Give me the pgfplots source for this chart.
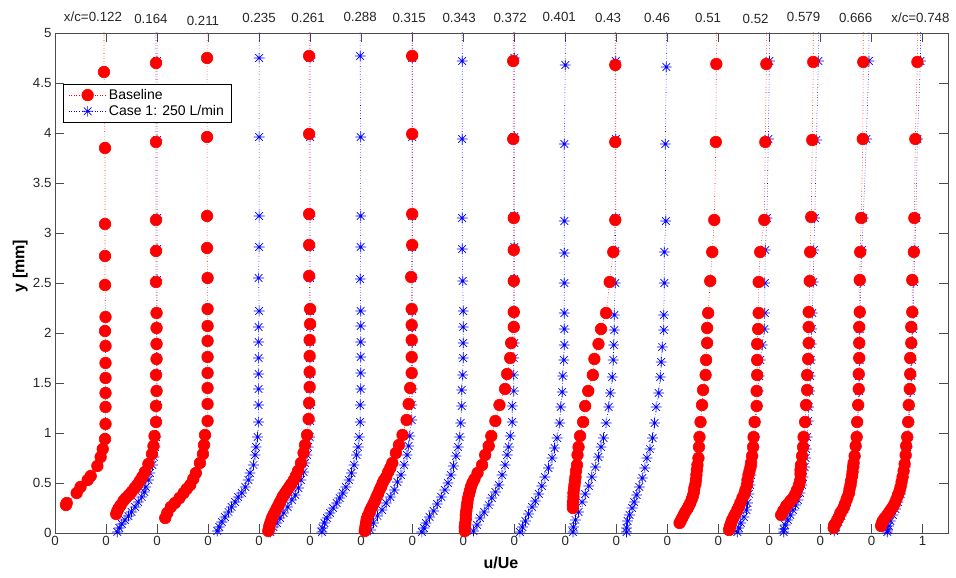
\documentclass[border=0pt]{standalone}
\usepackage{pgfplots}
\pgfplotsset{compat=1.18}
\usepackage{fontspec}
\setmainfont{Liberation Sans}

\newcommand{\mfont}{\fontsize{13.3}{15}\selectfont}
\newcommand{\gfont}{\fontsize{14}{16}\selectfont}
\newcommand{\lfont}{\fontsize{16}{18}\selectfont\bfseries}

% eight-armed asterisk
\pgfdeclareplotmark{mstar}{%
  \pgfpathmoveto{\pgfqpoint{-\pgfplotmarksize}{0pt}}%
  \pgfpathlineto{\pgfqpoint{\pgfplotmarksize}{0pt}}%
  \pgfpathmoveto{\pgfqpoint{0pt}{-\pgfplotmarksize}}%
  \pgfpathlineto{\pgfqpoint{0pt}{\pgfplotmarksize}}%
  \pgfpathmoveto{\pgfqpoint{-0.7071\pgfplotmarksize}{-0.7071\pgfplotmarksize}}%
  \pgfpathlineto{\pgfqpoint{0.7071\pgfplotmarksize}{0.7071\pgfplotmarksize}}%
  \pgfpathmoveto{\pgfqpoint{-0.7071\pgfplotmarksize}{0.7071\pgfplotmarksize}}%
  \pgfpathlineto{\pgfqpoint{0.7071\pgfplotmarksize}{-0.7071\pgfplotmarksize}}%
  \pgfusepathqstroke}

\pgfplotsset{
  baseline/.style={color=red, dotted, line width=0.6pt, mark=*, mark size=5.8pt,
    mark options={solid, fill=red, draw=red}},
  caseone/.style={color=blue, dotted, line width=0.6pt, mark=mstar, mark size=5.4pt,
    mark options={solid, line width=0.7pt}},
}

% each profile is stored as (u/Ue, y); #1 shifts it to its station
\newcommand{\bl}[2]{\addplot[baseline, forget plot, x filter/.expression={x+#1}] coordinates {#2};}
\newcommand{\ca}[2]{\addplot[caseone, forget plot, x filter/.expression={x+#1}] coordinates {#2};}

\begin{document}
\begin{tikzpicture}
\begin{axis}[
  scale only axis, width=893pt, height=500pt,
  xmin=0, xmax=17.5, ymin=0, ymax=5,
  xtick={0,1,2,3,4,5,6,7,8,9,10,11,12,13,14,15,16,17},
  xticklabels={0,0,0,0,0,0,0,0,0,0,0,0,0,0,0,0,0,1},
  ytick={0,0.5,1,1.5,2,2.5,3,3.5,4,4.5,5},
  yticklabels={0,0.5,1,1.5,2,2.5,3,3.5,4,4.5,5},
  tick pos=both, tick align=inside, major tick length=9pt,
  axis line style={black!70, line width=0.7pt},
  every tick/.style={black!70, line width=0.7pt},
  tick label style={font=\mfont, text=black!85},
  xlabel={u/Ue}, ylabel={y [mm]},
  xlabel style={font=\lfont, at={(axis description cs:0.4994,-0.06)}, anchor=center},
  ylabel style={font=\lfont, at={(axis description cs:-0.039,0.534)}, anchor=center},
  legend style={at={(axis description cs:0.009,0.898)}, anchor=north west,
    draw=black, fill=white, font=\gfont, line width=0.6pt,
    inner xsep=5pt, inner ysep=3pt, row sep=0.5pt},
  legend cell align=left,
  legend image code/.code={\draw[mark repeat=2, mark phase=2]
    plot coordinates {(0pt,0pt) (19pt,0pt) (38pt,0pt)};},
]
\addlegendimage{baseline}\addlegendentry{Baseline}
\addlegendimage{caseone}\addlegendentry{Case 1: 250 L/min}

% x/c = 0.122
\bl{0}{(0.96,5.5)(0.96,4.61)(0.98,3.85)(0.98,3.09)(0.98,2.77)(0.98,2.48)(0.99,2.16)(0.98,2.02)(0.99,1.87)(0.99,1.70)(0.99,1.55)(0.99,1.40)(0.99,1.26)(0.99,1.09)(0.98,0.94)(0.935,0.84)(0.895,0.76)(0.83,0.67)(0.70,0.57)(0.64,0.53)(0.50,0.46)(0.425,0.40)(0.23,0.30)(0.215,0.28)}
% x/c = 0.164
\ca{1}{(1.0,5.5)(1.0,4.72)(1.0,3.93)(1.0,3.15)(1.0,2.84)(1.0,2.53)(1.0,2.21)(1.0,2.06)(1.0,1.90)(1.0,1.75)(1.0,1.59)(1.0,1.43)(1.0,1.28)(0.99,1.12)(0.98,0.96)(0.96,0.86)(0.94,0.76)(0.91,0.68)(0.86,0.60)(0.83,0.53)(0.78,0.46)(0.75,0.41)(0.70,0.36)(0.63,0.31)(0.57,0.26)(0.50,0.21)(0.44,0.17)(0.37,0.13)(0.31,0.09)(0.26,0.05)(0.22,0.01)}
\bl{1}{(0.98,5.5)(0.98,4.70)(0.98,3.91)(0.98,3.13)(0.98,2.82)(0.98,2.51)(0.99,2.20)(0.99,2.05)(0.99,1.89)(0.99,1.74)(0.98,1.58)(0.99,1.42)(0.98,1.27)(0.98,1.11)(0.95,0.97)(0.93,0.87)(0.90,0.79)(0.83,0.69)(0.76,0.61)(0.71,0.56)(0.66,0.52)(0.61,0.48)(0.56,0.45)(0.50,0.41)(0.45,0.38)(0.39,0.35)(0.34,0.32)(0.29,0.28)(0.25,0.25)(0.22,0.22)(0.20,0.19)}
% x/c = 0.211
\bl{2}{(0.98,5.5)(0.98,4.75)(0.98,3.96)(0.98,3.17)(0.98,2.85)(0.99,2.55)(0.99,2.24)(0.99,2.07)(0.99,1.92)(0.99,1.76)(0.99,1.60)(0.99,1.45)(0.99,1.29)(0.99,1.12)(0.94,0.98)(0.92,0.88)(0.90,0.79)(0.84,0.70)(0.76,0.60)(0.71,0.54)(0.65,0.48)(0.58,0.44)(0.52,0.40)(0.44,0.35)(0.35,0.30)(0.27,0.26)(0.20,0.20)(0.16,0.15)}
% x/c = 0.235
\ca{3}{(1.0,5.5)(1.0,4.75)(1.0,3.96)(1.0,3.17)(1.0,2.86)(0.99,2.55)(1.0,2.22)(0.99,2.06)(0.99,1.91)(0.99,1.75)(0.99,1.59)(0.99,1.44)(0.99,1.28)(0.99,1.11)(0.97,0.96)(0.94,0.86)(0.92,0.78)(0.89,0.68)(0.82,0.60)(0.79,0.53)(0.73,0.46)(0.66,0.40)(0.59,0.36)(0.53,0.31)(0.46,0.26)(0.40,0.21)(0.33,0.16)(0.27,0.11)(0.22,0.06)(0.18,0.02)}
% x/c = 0.261
\ca{4}{(1.0,5.5)(1.0,4.75)(1.0,3.96)(1.0,3.17)(1.0,2.86)(1.0,2.55)(1.0,2.22)(1.0,2.06)(1.0,1.91)(1.0,1.75)(1.0,1.59)(1.0,1.44)(1.0,1.28)(1.0,1.12)(0.99,0.96)(0.96,0.86)(0.94,0.78)(0.90,0.70)(0.87,0.61)(0.82,0.53)(0.77,0.45)(0.71,0.38)(0.64,0.33)(0.56,0.26)(0.48,0.20)(0.41,0.15)(0.35,0.10)(0.28,0.06)(0.22,0.01)}
\bl{4}{(0.98,5.5)(0.98,4.77)(0.98,3.99)(0.98,3.19)(0.98,2.88)(0.98,2.57)(1.0,2.24)(1.0,2.09)(0.99,1.93)(0.99,1.77)(0.99,1.61)(0.99,1.46)(0.98,1.30)(0.97,1.14)(0.94,0.98)(0.90,0.88)(0.87,0.80)(0.82,0.70)(0.76,0.62)(0.72,0.57)(0.68,0.53)(0.63,0.49)(0.59,0.46)(0.55,0.43)(0.51,0.40)(0.47,0.37)(0.44,0.34)(0.41,0.31)(0.38,0.28)(0.35,0.25)(0.32,0.22)(0.29,0.19)(0.26,0.16)(0.24,0.13)(0.22,0.10)(0.20,0.07)(0.19,0.04)(0.18,0.02)}
% x/c = 0.288
\ca{5}{(0.98,5.5)(0.98,4.77)(0.99,3.96)(0.99,3.17)(0.99,2.86)(0.98,2.54)(0.99,2.22)(0.99,2.07)(0.99,1.91)(0.99,1.76)(0.99,1.60)(0.99,1.44)(0.98,1.28)(0.98,1.11)(0.96,0.96)(0.94,0.86)(0.91,0.78)(0.86,0.68)(0.81,0.60)(0.76,0.53)(0.70,0.46)(0.64,0.40)(0.58,0.35)(0.52,0.30)(0.45,0.25)(0.39,0.20)(0.33,0.15)(0.28,0.10)(0.24,0.05)(0.23,0.01)}
% x/c = 0.315
\ca{6}{(1.0,5.5)(1.0,4.75)(1.0,3.96)(1.0,3.17)(1.0,2.86)(1.0,2.55)(1.0,2.22)(1.0,2.06)(1.0,1.91)(1.0,1.75)(1.0,1.59)(1.0,1.44)(0.99,1.28)(0.99,1.13)(0.95,0.97)(0.93,0.87)(0.90,0.78)(0.84,0.68)(0.78,0.58)(0.71,0.51)(0.65,0.43)(0.57,0.36)(0.49,0.30)(0.41,0.23)(0.32,0.17)(0.24,0.10)(0.18,0.03)}
\bl{6}{(1.0,5.5)(1.0,4.77)(1.0,3.99)(1.0,3.19)(1.0,2.88)(0.98,2.56)(0.99,2.24)(0.99,2.08)(0.99,1.93)(0.99,1.76)(0.99,1.60)(0.96,1.45)(0.93,1.29)(0.89,1.13)(0.81,0.98)(0.74,0.88)(0.68,0.80)(0.61,0.70)(0.57,0.65)(0.53,0.61)(0.49,0.56)(0.45,0.53)(0.42,0.50)(0.39,0.46)(0.36,0.43)(0.33,0.39)(0.30,0.36)(0.27,0.32)(0.24,0.29)(0.21,0.26)(0.18,0.23)(0.16,0.20)(0.13,0.17)(0.11,0.14)(0.10,0.11)(0.09,0.08)(0.08,0.05)(0.07,0.02)}
% x/c = 0.343
\ca{7}{(0.98,5.5)(0.98,4.72)(0.98,3.94)(0.98,3.15)(0.98,2.84)(0.99,2.52)(1.0,2.22)(1.0,2.06)(1.0,1.90)(1.0,1.75)(0.99,1.58)(0.97,1.43)(0.97,1.27)(0.95,1.10)(0.93,0.96)(0.90,0.86)(0.86,0.77)(0.81,0.67)(0.76,0.58)(0.70,0.50)(0.64,0.43)(0.57,0.36)(0.49,0.29)(0.42,0.22)(0.34,0.16)(0.27,0.10)(0.23,0.05)(0.19,0.01)}
% x/c = 0.372
\ca{8}{(1.0,5.5)(1.0,4.75)(1.0,3.96)(1.0,3.17)(1.0,2.86)(1.0,2.54)(1.0,2.20)(1.0,2.06)(1.0,1.90)(0.99,1.75)(0.99,1.58)(0.99,1.42)(0.96,1.27)(0.96,1.11)(0.92,0.97)(0.89,0.86)(0.86,0.78)(0.82,0.68)(0.76,0.58)(0.70,0.48)(0.63,0.41)(0.56,0.35)(0.50,0.28)(0.41,0.21)(0.33,0.15)(0.27,0.08)(0.20,0.02)}
\bl{8}{(0.98,5.5)(0.98,4.72)(0.98,3.94)(0.99,3.15)(0.99,2.83)(0.99,2.52)(0.99,2.21)(0.99,2.06)(0.94,1.90)(0.92,1.75)(0.86,1.59)(0.82,1.44)(0.71,1.28)(0.63,1.12)(0.55,0.97)(0.50,0.87)(0.43,0.78)(0.37,0.68)(0.28,0.60)(0.22,0.54)(0.18,0.50)(0.15,0.46)(0.13,0.42)(0.11,0.38)(0.09,0.34)(0.08,0.30)(0.07,0.26)(0.06,0.22)(0.05,0.18)(0.05,0.14)(0.04,0.10)(0.03,0.06)(0.03,0.02)}
% x/c = 0.401
\ca{9}{(1.0,5.5)(1.0,4.68)(0.98,3.89)(0.98,3.12)(0.98,2.80)(0.98,2.50)(0.98,2.20)(0.98,2.04)(0.98,1.88)(0.97,1.73)(0.95,1.57)(0.94,1.41)(0.91,1.26)(0.89,1.10)(0.84,0.95)(0.79,0.85)(0.74,0.75)(0.67,0.65)(0.60,0.56)(0.54,0.47)(0.48,0.39)(0.41,0.32)(0.35,0.26)(0.28,0.19)(0.22,0.12)(0.16,0.06)(0.11,0.01)}
% x/c = 0.43
\ca{10}{(0.99,5.5)(0.99,4.72)(0.99,3.94)(0.99,3.15)(0.98,2.82)(0.98,2.50)(0.96,2.18)(0.96,2.03)(0.95,1.88)(0.94,1.73)(0.92,1.56)(0.88,1.40)(0.85,1.26)(0.80,1.10)(0.75,0.95)(0.70,0.86)(0.65,0.76)(0.59,0.66)(0.52,0.56)(0.46,0.47)(0.39,0.39)(0.33,0.31)(0.26,0.21)(0.20,0.13)(0.16,0.06)(0.15,0.01)}
\bl{10}{(0.98,5.5)(0.98,4.68)(0.98,3.91)(0.98,3.13)(0.94,2.81)(0.87,2.51)(0.80,2.20)(0.70,2.04)(0.65,1.89)(0.57,1.74)(0.54,1.58)(0.45,1.42)(0.39,1.27)(0.35,1.11)(0.29,0.97)(0.26,0.86)(0.24,0.78)(0.23,0.68)(0.21,0.62)(0.20,0.56)(0.19,0.52)(0.18,0.48)(0.17,0.44)(0.16,0.40)(0.16,0.36)(0.15,0.31)(0.15,0.28)(0.15,0.25)}
% x/c = 0.46
\ca{11}{(0.98,5.5)(0.98,4.66)(0.96,3.89)(0.97,3.12)(0.94,2.81)(0.94,2.50)(0.93,2.18)(0.93,2.03)(0.90,1.86)(0.88,1.71)(0.86,1.56)(0.83,1.40)(0.78,1.26)(0.75,1.10)(0.71,0.95)(0.66,0.84)(0.60,0.75)(0.56,0.65)(0.51,0.55)(0.45,0.46)(0.40,0.38)(0.35,0.31)(0.31,0.25)(0.26,0.18)(0.22,0.12)(0.20,0.05)(0.20,0.01)}
% x/c = 0.51
\bl{12}{(0.96,5.5)(0.96,4.69)(0.95,3.91)(0.92,3.13)(0.88,2.81)(0.84,2.52)(0.80,2.20)(0.78,2.05)(0.78,1.90)(0.76,1.73)(0.75,1.58)(0.70,1.43)(0.68,1.28)(0.65,1.11)(0.63,0.96)(0.62,0.86)(0.61,0.75)(0.59,0.68)(0.58,0.63)(0.57,0.58)(0.56,0.53)(0.55,0.49)(0.53,0.45)(0.52,0.41)(0.50,0.37)(0.48,0.34)(0.45,0.30)(0.42,0.27)(0.39,0.24)(0.35,0.21)(0.32,0.18)(0.29,0.15)(0.26,0.12)(0.24,0.10)}
% x/c = 0.52
\ca{13}{(1.0,5.5)(1.0,4.72)(0.98,3.94)(0.95,3.15)(0.92,2.83)(0.91,2.50)(0.91,2.20)(0.90,2.04)(0.86,1.88)(0.82,1.73)(0.80,1.57)(0.78,1.42)(0.77,1.27)(0.73,1.11)(0.71,0.96)(0.70,0.86)(0.68,0.77)(0.66,0.67)(0.64,0.58)(0.62,0.48)(0.60,0.39)(0.57,0.30)(0.55,0.23)(0.50,0.16)(0.44,0.10)(0.40,0.05)(0.37,0.01)}
\bl{13}{(0.94,5.5)(0.94,4.69)(0.92,3.91)(0.90,3.13)(0.82,2.81)(0.79,2.51)(0.79,2.20)(0.78,2.04)(0.76,1.89)(0.76,1.73)(0.76,1.58)(0.75,1.42)(0.75,1.27)(0.71,1.11)(0.69,0.96)(0.68,0.86)(0.66,0.77)(0.64,0.70)(0.63,0.66)(0.61,0.62)(0.59,0.58)(0.57,0.53)(0.56,0.48)(0.53,0.43)(0.51,0.39)(0.47,0.35)(0.43,0.30)(0.40,0.26)(0.37,0.23)(0.33,0.19)(0.30,0.16)(0.27,0.13)(0.25,0.10)(0.23,0.07)(0.22,0.05)(0.21,0.03)}
% x/c = 0.579
\ca{14}{(0.96,5.5)(0.96,4.72)(0.92,3.93)(0.89,3.15)(0.87,2.83)(0.86,2.51)(0.84,2.20)(0.83,2.04)(0.82,1.89)(0.81,1.73)(0.80,1.57)(0.79,1.42)(0.77,1.26)(0.76,1.12)(0.74,0.96)(0.72,0.84)(0.71,0.75)(0.69,0.66)(0.66,0.56)(0.64,0.48)(0.60,0.40)(0.56,0.33)(0.51,0.28)(0.46,0.23)(0.41,0.18)(0.36,0.13)(0.31,0.08)(0.28,0.04)(0.28,0.01)}
\bl{14}{(0.86,5.5)(0.86,4.71)(0.84,3.93)(0.82,3.16)(0.80,2.81)(0.79,2.52)(0.77,2.21)(0.77,2.06)(0.77,1.90)(0.76,1.74)(0.74,1.58)(0.74,1.43)(0.72,1.28)(0.70,1.11)(0.67,0.96)(0.66,0.86)(0.64,0.77)(0.62,0.68)(0.61,0.63)(0.61,0.59)(0.60,0.52)(0.58,0.48)(0.54,0.43)(0.51,0.39)(0.49,0.37)(0.45,0.34)(0.41,0.32)(0.37,0.29)(0.33,0.27)(0.30,0.24)(0.27,0.22)(0.23,0.18)}
% x/c = 0.666
\ca{15}{(0.95,5.5)(0.95,4.72)(0.90,3.94)(0.84,3.15)(0.81,2.83)(0.79,2.51)(0.78,2.20)(0.77,2.04)(0.77,1.89)(0.77,1.73)(0.76,1.57)(0.76,1.42)(0.75,1.27)(0.73,1.11)(0.72,0.96)(0.70,0.86)(0.68,0.76)(0.66,0.66)(0.63,0.56)(0.60,0.47)(0.56,0.39)(0.52,0.31)(0.47,0.24)(0.41,0.17)(0.35,0.11)(0.30,0.06)(0.27,0.02)}
\bl{15}{(0.84,5.5)(0.84,4.71)(0.83,3.94)(0.80,3.15)(0.78,2.81)(0.77,2.53)(0.77,2.21)(0.76,2.06)(0.76,1.90)(0.76,1.75)(0.75,1.59)(0.75,1.44)(0.74,1.28)(0.72,1.11)(0.71,0.96)(0.69,0.87)(0.67,0.77)(0.65,0.70)(0.64,0.66)(0.63,0.61)(0.62,0.57)(0.60,0.52)(0.59,0.48)(0.57,0.44)(0.56,0.40)(0.53,0.36)(0.51,0.33)(0.48,0.29)(0.46,0.26)(0.43,0.23)(0.39,0.20)(0.36,0.16)(0.33,0.13)(0.30,0.10)(0.27,0.08)(0.26,0.05)}
% x/c = 0.748
\ca{16}{(0.96,5.5)(0.96,4.72)(0.90,3.94)(0.87,3.15)(0.85,2.83)(0.83,2.51)(0.82,2.20)(0.81,2.04)(0.80,1.89)(0.79,1.73)(0.78,1.57)(0.77,1.42)(0.75,1.27)(0.74,1.11)(0.72,0.96)(0.70,0.86)(0.68,0.76)(0.66,0.66)(0.63,0.56)(0.60,0.47)(0.57,0.39)(0.52,0.31)(0.47,0.24)(0.42,0.18)(0.37,0.12)(0.34,0.07)(0.32,0.03)(0.31,0.01)}
\bl{16}{(0.90,5.5)(0.90,4.71)(0.86,3.94)(0.84,3.15)(0.83,2.81)(0.80,2.53)(0.80,2.21)(0.78,2.06)(0.78,1.90)(0.76,1.75)(0.76,1.59)(0.75,1.44)(0.73,1.28)(0.72,1.11)(0.70,0.96)(0.68,0.87)(0.67,0.78)(0.65,0.69)(0.63,0.62)(0.61,0.56)(0.59,0.51)(0.57,0.46)(0.55,0.42)(0.52,0.38)(0.49,0.34)(0.46,0.30)(0.43,0.27)(0.39,0.24)(0.35,0.21)(0.31,0.18)(0.26,0.15)(0.22,0.12)(0.20,0.09)(0.19,0.07)}

% anchor points for the station labels above the frame
\coordinate (s1) at (axis cs:0.745,5);
\coordinate (s2) at (axis cs:1.88,5);
\coordinate (s3) at (axis cs:2.90,5);
\coordinate (s4) at (axis cs:4.00,5);
\coordinate (s5) at (axis cs:4.96,5);
\coordinate (s6) at (axis cs:5.98,5);
\coordinate (s7) at (axis cs:6.94,5);
\coordinate (s8) at (axis cs:7.92,5);
\coordinate (s9) at (axis cs:8.92,5);
\coordinate (s10) at (axis cs:9.88,5);
\coordinate (s11) at (axis cs:10.84,5);
\coordinate (s12) at (axis cs:11.80,5);
\coordinate (s13) at (axis cs:12.80,5);
\coordinate (s14) at (axis cs:13.73,5);
\coordinate (s15) at (axis cs:14.67,5);
\coordinate (s16) at (axis cs:15.69,5);
\coordinate (s17) at (axis cs:16.96,5);
\coordinate (SW) at (rel axis cs:0,0);
\coordinate (NE) at (rel axis cs:1,1);
\end{axis}
\begin{scope}[every node/.style={font=\mfont, text=black!85}]
\node at ([yshift=16pt]s1) {x/c=0.122};
\node at ([yshift=14pt]s2) {0.164};
\node at ([yshift=12pt]s3) {0.211};
\node at ([yshift=15pt]s4) {0.235};
\node at ([yshift=15pt]s5) {0.261};
\node at ([yshift=16pt]s6) {0.288};
\node at ([yshift=15pt]s7) {0.315};
\node at ([yshift=15pt]s8) {0.343};
\node at ([yshift=15pt]s9) {0.372};
\node at ([yshift=16pt]s10) {0.401};
\node at ([yshift=15pt]s11) {0.43};
\node at ([yshift=15pt]s12) {0.46};
\node at ([yshift=15pt]s13) {0.51};
\node at ([yshift=14pt]s14) {0.52};
\node at ([yshift=16pt]s15) {0.579};
\node at ([yshift=15pt]s16) {0.666};
\node at ([yshift=15pt]s17) {x/c=0.748};
\end{scope}
\pgfresetboundingbox
\path[use as bounding box] ([shift={(-55pt,-45pt)}]SW) rectangle ([shift={(8pt,33pt)}]NE);
\end{tikzpicture}
\end{document}
